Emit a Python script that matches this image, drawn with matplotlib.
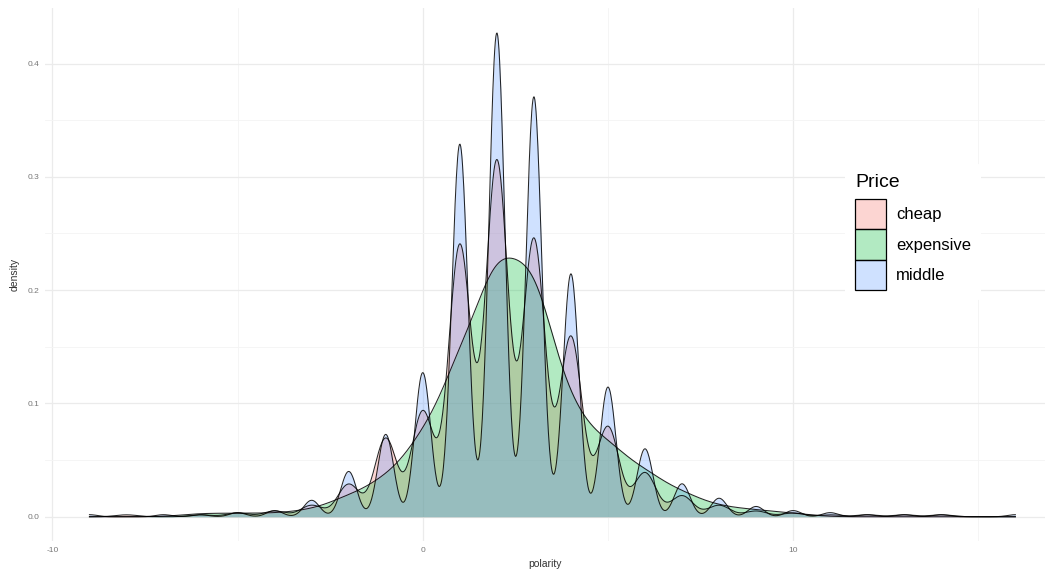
import numpy as np
import matplotlib
matplotlib.use("Agg")
import matplotlib.pyplot as plt
from matplotlib.patches import Patch
from matplotlib.colors import to_rgba

plt.rcParams["font.family"] = ["Liberation Sans", "DejaVu Sans"]
plt.rcParams["axes.unicode_minus"] = False

# polarity scores (integer) and number of reviews per score, by price group
polarity = np.arange(-9, 17)
cheap_counts = [0, 1, 0, 1, 2, 3, 6, 17, 41, 55, 142, 186, 145, 94, 47, 23, 11, 6, 3, 2, 1, 1, 1, 1, 0, 0]
expensive_counts = [0, 0, 0, 1, 1, 1, 2, 6, 11, 23, 46, 75, 72, 30, 21, 13, 7, 3, 2, 1, 0, 0, 0, 0, 0, 0]
middle_counts = [1, 0, 1, 1, 2, 3, 8, 22, 40, 70, 181, 235, 204, 118, 63, 33, 16, 9, 5, 3, 2, 1, 1, 1, 0, 1]

groups = ["cheap", "expensive", "middle"]
counts = {"cheap": cheap_counts, "expensive": expensive_counts, "middle": middle_counts}
bandwidth = {"cheap": 0.30, "expensive": 0.58, "middle": 0.215}
colors = {"cheap": "#F8766D", "expensive": "#00BA38", "middle": "#619CFF"}


def kde(values, weights, bw, grid):
    w = np.asarray(weights, dtype=float)
    w = w / w.sum()
    z = (grid[:, None] - values[None, :]) / bw
    return (np.exp(-0.5 * z ** 2) * w).sum(axis=1) / (bw * np.sqrt(2 * np.pi))


fig = plt.figure(figsize=(10.5, 5.74), dpi=100)
ax = fig.add_axes([45 / 1050, 1 - 541 / 574, 1000 / 1050, 533 / 574])

grid = np.linspace(polarity.min(), polarity.max(), 1500)
for g in groups:
    dens = kde(polarity, counts[g], bandwidth[g], grid)
    ax.fill_between(grid, 0, dens, color=colors[g], alpha=0.3, linewidth=0)
    ax.plot(grid, dens, color="black", linewidth=0.75, alpha=0.85)

ax.set_xlim(-10.2, 16.8)
ax.set_ylim(-0.0214, 0.449)
ax.set_xticks([-10, 0, 10])
ax.set_xticks([-5, 5, 15], minor=True)
ax.set_yticks([0.0, 0.1, 0.2, 0.3, 0.4])
ax.set_yticklabels(["0.0", "0.1", "0.2", "0.3", "0.4"])
ax.set_yticks([0.05, 0.15, 0.25, 0.35], minor=True)

ax.grid(True, which="major", color="#EBEBEB", linewidth=0.9)
ax.grid(True, which="minor", color="#F4F4F4", linewidth=0.6)
ax.set_axisbelow(True)
for s in ax.spines.values():
    s.set_visible(False)
ax.tick_params(which="both", length=0, labelsize=6, labelcolor="#777777", pad=4)

ax.set_xlabel("polarity", fontsize=7.5, color="#333333", labelpad=4)
ax.set_ylabel("density", fontsize=7.5, color="#333333", labelpad=6)

handles = [Patch(facecolor=to_rgba(colors[g], 0.3), edgecolor="black", linewidth=0.9) for g in groups]
leg = fig.legend(handles, groups, title="Price", loc="upper left",
                 bbox_to_anchor=(845 / 1050, 1 - 164 / 574), frameon=True,
                 facecolor="white", edgecolor="none", framealpha=1, fontsize=12,
                 title_fontsize=14, handlelength=1.85, handleheight=2.4,
                 labelspacing=0.0, handletextpad=0.6, borderpad=0.6,
                 borderaxespad=0, alignment="left")
leg._legend_box.sep = 6  # gap between title and keys

fig.savefig("out.png", dpi=100)
